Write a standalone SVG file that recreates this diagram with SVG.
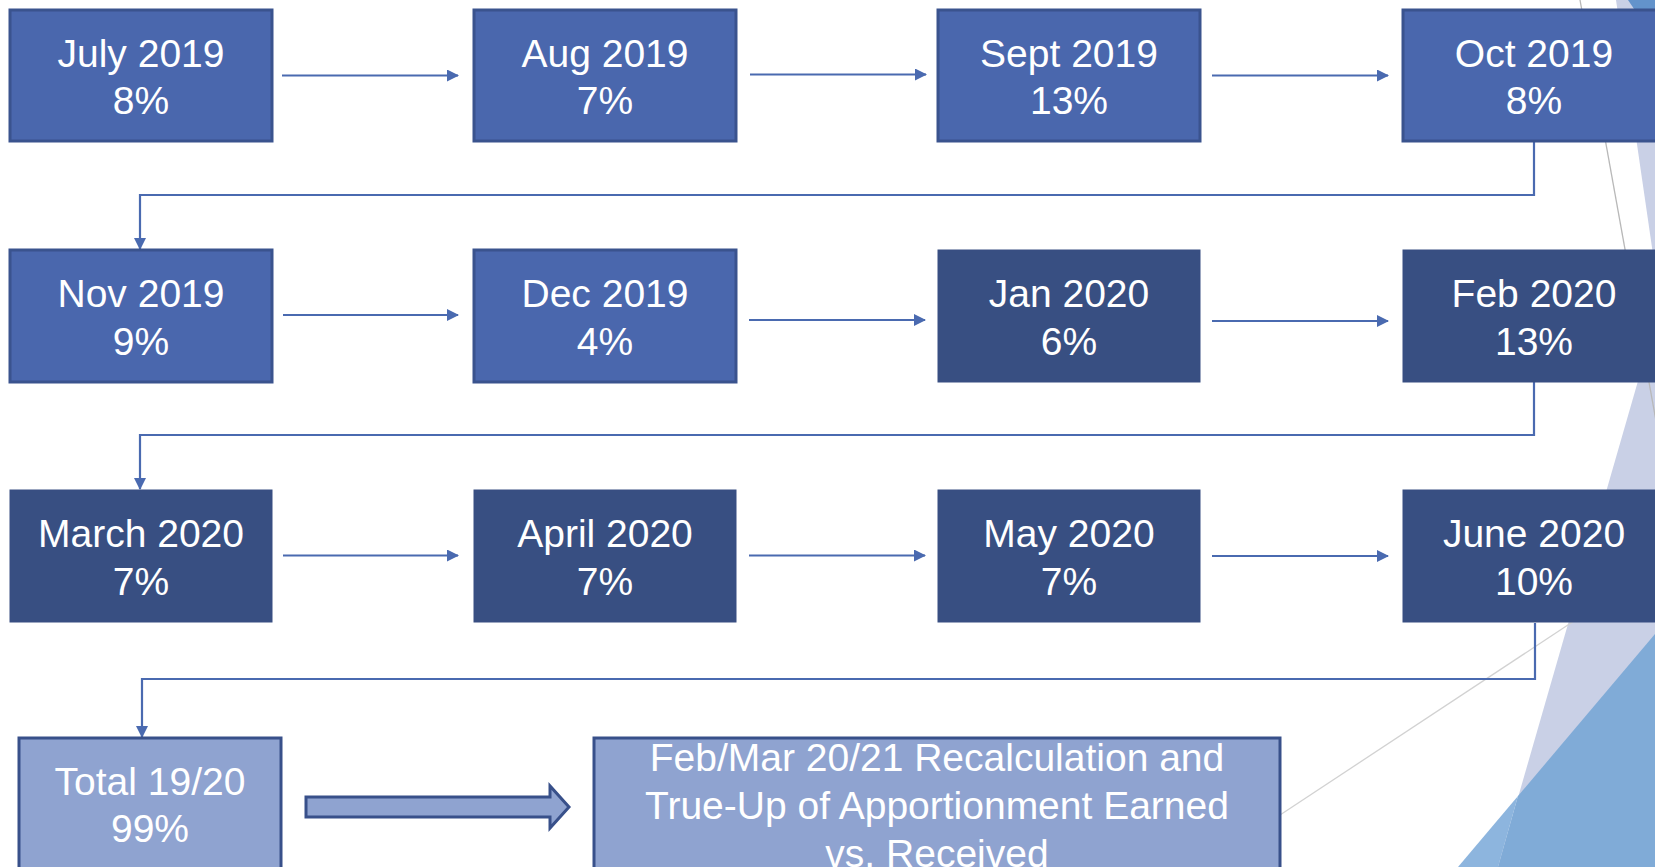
<svg xmlns="http://www.w3.org/2000/svg" width="1655" height="867" viewBox="0 0 1655 867">
<defs>
<style>
.t{font-family:"Liberation Sans",Arial,sans-serif;font-size:39px;fill:#ffffff;text-anchor:middle}
.mid{fill:#4a67ad;stroke:#3a538e;stroke-width:3}
.dark{fill:#384f82;stroke:#384f82;stroke-width:1}
.light{fill:#8fa3d0;stroke:#38508a;stroke-width:3}
.con{fill:none;stroke:#4a6ab0;stroke-width:2.2;marker-end:url(#ah)}
</style>
<marker id="ah" viewBox="0 0 12 12" refX="11" refY="6" markerWidth="12" markerHeight="12" markerUnits="userSpaceOnUse" orient="auto">
<path d="M0,0 L12,6 L0,12 Z" fill="#4a6ab0"/>
</marker>
</defs>
<rect width="1655" height="867" fill="#ffffff"/>
<g id="background">
<polygon points="1616,0 1655,0 1655,268" fill="#c9d0e6"/>
<polygon points="1628,0 1655,0 1655,40" fill="#6393cb"/>
<polygon points="1655,322 1498,867 1655,867" fill="#c9d0e6"/>
<polygon points="1518,796 1458,867 1498,867" fill="#8db5de"/>
<polygon points="1655,634 1518,796 1498,867 1655,867" fill="#80abd7"/>
<line x1="1580" y1="0" x2="1658" y2="432" stroke="#b8b8b8" stroke-width="1.3"/>
<line x1="1280" y1="815" x2="1580" y2="617" stroke="#d2d2d2" stroke-width="1.3"/>
</g>
<g id="connectors">
<line class="con" x1="282" y1="75.5" x2="458" y2="75.5"/>
<line class="con" x1="750" y1="74.5" x2="926" y2="74.5"/>
<line class="con" x1="1212" y1="75.5" x2="1388" y2="75.5"/>
<line class="con" x1="283" y1="315" x2="458" y2="315"/>
<line class="con" x1="749" y1="320" x2="925" y2="320"/>
<line class="con" x1="1212" y1="321" x2="1388" y2="321"/>
<line class="con" x1="283" y1="555.5" x2="458" y2="555.5"/>
<line class="con" x1="749" y1="555.5" x2="925" y2="555.5"/>
<line class="con" x1="1212" y1="556" x2="1388" y2="556"/>
<polyline class="con" points="1534,141 1534,195 140,195 140,249"/>
<polyline class="con" points="1534,382 1534,435 140,435 140,489"/>
<polyline class="con" points="1535,623 1535,679 142,679 142,737"/>
<polygon points="306,797 550,797 550,786 569,807 550,828 550,817 306,817" fill="#8fa3d0" stroke="#38508a" stroke-width="3" stroke-linejoin="miter"/>
</g>
<g id="n-jul2019"><rect class="mid" x="10" y="10" width="262" height="131"/><text class="t" x="141" y="67">July 2019</text><text class="t" x="141" y="114">8%</text></g>
<g id="n-aug2019"><rect class="mid" x="474" y="10" width="262" height="131"/><text class="t" x="605" y="67">Aug 2019</text><text class="t" x="605" y="114">7%</text></g>
<g id="n-sep2019"><rect class="mid" x="938" y="10" width="262" height="131"/><text class="t" x="1069" y="67">Sept 2019</text><text class="t" x="1069" y="114">13%</text></g>
<g id="n-oct2019"><rect class="mid" x="1403" y="10" width="262" height="131"/><text class="t" x="1534" y="67">Oct 2019</text><text class="t" x="1534" y="114">8%</text></g>
<g id="n-nov2019"><rect class="mid" x="10" y="250" width="262" height="132"/><text class="t" x="141" y="307">Nov 2019</text><text class="t" x="141" y="355">9%</text></g>
<g id="n-dec2019"><rect class="mid" x="474" y="250" width="262" height="132"/><text class="t" x="605" y="307">Dec 2019</text><text class="t" x="605" y="355">4%</text></g>
<g id="n-jan2020"><rect class="dark" x="938" y="250" width="262" height="132"/><text class="t" x="1069" y="307">Jan 2020</text><text class="t" x="1069" y="355">6%</text></g>
<g id="n-feb2020"><rect class="dark" x="1403" y="250" width="262" height="132"/><text class="t" x="1534" y="307">Feb 2020</text><text class="t" x="1534" y="355">13%</text></g>
<g id="n-mar2020"><rect class="dark" x="10" y="490" width="262" height="132"/><text class="t" x="141" y="547">March 2020</text><text class="t" x="141" y="595">7%</text></g>
<g id="n-apr2020"><rect class="dark" x="474" y="490" width="262" height="132"/><text class="t" x="605" y="547">April 2020</text><text class="t" x="605" y="595">7%</text></g>
<g id="n-may2020"><rect class="dark" x="938" y="490" width="262" height="132"/><text class="t" x="1069" y="547">May 2020</text><text class="t" x="1069" y="595">7%</text></g>
<g id="n-jun2020"><rect class="dark" x="1403" y="490" width="262" height="132"/><text class="t" x="1534" y="547">June 2020</text><text class="t" x="1534" y="595">10%</text></g>
<g id="n-total"><rect class="light" x="19" y="738" width="262" height="160"/><text class="t" x="150" y="795">Total 19/20</text><text class="t" x="150" y="842">99%</text></g>
<g id="n-trueup"><rect class="light" x="594" y="738" width="686" height="160"/><text class="t" x="937" y="771">Feb/Mar 20/21 Recalculation and</text><text class="t" x="937" y="819">True-Up of Apportionment Earned</text><text class="t" x="937" y="867">vs. Received</text></g>
</svg>
